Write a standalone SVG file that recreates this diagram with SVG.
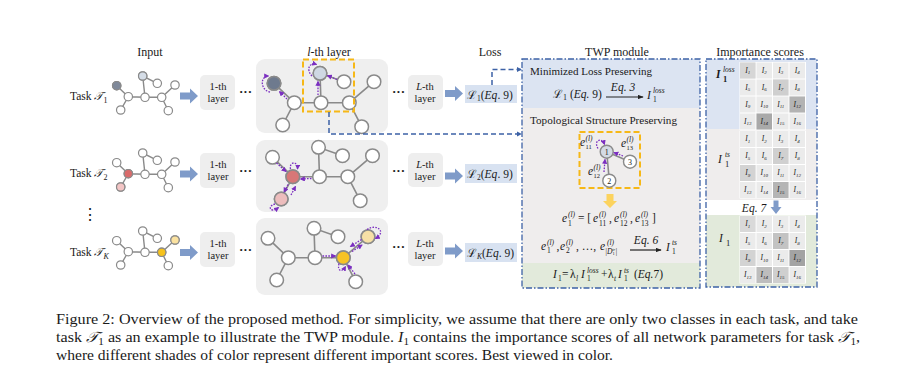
<svg xmlns="http://www.w3.org/2000/svg" width="906" height="375" viewBox="0 0 906 375">
<defs>
<style>
text{font-family:"Liberation Serif","DejaVu Serif",serif;fill:#1a1a1a}
.ttl{font-size:12px;text-anchor:middle}
.it{font-style:italic}
.lb{font-size:10.5px;text-anchor:middle}
.edge{stroke:#8a8a8a;stroke-width:1.6;fill:none}
.n{fill:#fff;stroke:#8a8a8a;stroke-width:1.2}
.N{fill:#fff;stroke:#8a8a8a;stroke-width:1.5}
.pu{stroke:#7b2fc0;stroke-width:1.3;stroke-dasharray:1.6 1.3;fill:none;marker-end:url(#pm)}
.lay{fill:#eeeeee}
.big{fill:#efefef}
.loss{fill:#d8e2f1}
.ba{fill:#7f9bc9}
.dash{stroke:#3d62a6;stroke-width:1.5;stroke-dasharray:5 3;fill:none;marker-end:url(#bm)}
.dd{stroke:#3d62a6;stroke-width:1.3;stroke-dasharray:6 2 1.5 2;fill:none}
.ob{stroke:#f6b817;stroke-width:2;stroke-dasharray:6 3;fill:none}
.c{font-size:7.5px;font-style:italic;text-anchor:middle}
.m{font-size:11.5px;font-style:italic}
.s{font-size:7.5px;font-style:italic}
.cap{font-size:14.5px}
.dots{font-size:13px;font-weight:bold}
</style>
<marker id="pm" viewBox="0 0 6 6" refX="5" refY="3" markerWidth="4" markerHeight="4" orient="auto"><path d="M0,0 L6,3 L0,6 Z" fill="#7b2fc0"/></marker>
<marker id="bm" viewBox="0 0 6 6" refX="5" refY="3" markerWidth="3.5" markerHeight="3.5" orient="auto"><path d="M0,0 L6,3 L0,6 Z" fill="#3d62a6"/></marker>
<marker id="km" viewBox="0 0 8 6" refX="7" refY="3" markerWidth="6" markerHeight="4.5" markerUnits="userSpaceOnUse" orient="auto"><path d="M0,0 L8,3 L0,6 Z" fill="#222"/></marker>
<path id="barr" d="M0,-3.5 H10 V-7.5 L18,0 L10,7.5 V3.5 H0 Z"/>
<g id="ig">
<path class="edge" style="stroke-width:1.4" d="M116.7,85.7 L128.3,96.7 L145,97.3 L161.7,97.3 L175,85 M145,97.3 L142.7,76 L157.3,83.3 M161.7,97.3 L168.3,110.7 M128.3,96.7 L120.7,110"/>
<circle class="n" cx="116.7" cy="85.7" r="4.2"/><circle class="n" cx="142.7" cy="76" r="4.2"/><circle class="n" cx="157.3" cy="83.3" r="4.2"/><circle class="n" cx="175" cy="85" r="4.2"/><circle class="n" cx="128.3" cy="96.7" r="4.2"/><circle class="n" cx="145" cy="97.3" r="4.2"/><circle class="n" cx="161.7" cy="97.3" r="4.2"/><circle class="n" cx="120.7" cy="110" r="4.2"/><circle class="n" cx="168.3" cy="110.7" r="4.2"/>
</g>
<g id="lg">
<path class="edge" d="M274,83.3 L294.3,102.7 L321,102.7 L349.3,102.7 L374,81.7 M321,102.7 L320,73.3 L344,81.7 M349.3,102.7 L361.7,126.7 M294.3,102.7 L282.7,125"/>
<circle class="N" cx="274" cy="83.3" r="6.8"/><circle class="N" cx="320" cy="73.3" r="6.8"/><circle class="N" cx="344" cy="81.7" r="6.8"/><circle class="N" cx="374" cy="81.7" r="6.8"/><circle class="N" cx="294.3" cy="102.7" r="6.8"/><circle class="N" cx="321" cy="102.7" r="6.8"/><circle class="N" cx="349.3" cy="102.7" r="6.8"/><circle class="N" cx="282.7" cy="125" r="6.8"/><circle class="N" cx="361.7" cy="126.7" r="6.8"/>
</g>
</defs>
<rect width="906" height="375" fill="#fff"/>

<!-- titles -->
<text class="ttl" x="150" y="56">Input</text>
<text class="ttl" x="329" y="56"><tspan class="it">l</tspan>-th layer</text>
<text class="ttl" x="490" y="56">Loss</text>
<text class="ttl" x="617" y="56">TWP module</text>
<text class="ttl" x="760" y="56">Importance scores</text>

<!-- inputs -->
<g id="input-1">
<text x="70" y="100" font-size="11.5">Task <tspan class="it">𝒯</tspan><tspan font-size="8" dy="2.5">1</tspan></text>
<use href="#ig"/>
<circle cx="116.7" cy="85.7" r="4.2" fill="#7f899a" stroke="#8a8a8a" stroke-width="1.2"/>
<circle cx="142.7" cy="76" r="4.2" fill="#d5dde7" stroke="#8a8a8a" stroke-width="1.2"/>
</g>
<g id="input-2">
<text x="70" y="177" font-size="11.5">Task <tspan class="it">𝒯</tspan><tspan font-size="8" dy="2.5">2</tspan></text>
<use href="#ig" transform="translate(0,77)"/>
<circle cx="128.3" cy="173.7" r="4.2" fill="#d96b6b" stroke="#8a8a8a" stroke-width="1.2"/>
<circle cx="120.7" cy="187" r="4.2" fill="#f3c5c5" stroke="#8a8a8a" stroke-width="1.2"/>
</g>
<text x="90" y="220" font-size="16" text-anchor="middle">⋮</text>
<g id="input-K">
<text x="70" y="256" font-size="11.5">Task <tspan class="it">𝒯</tspan><tspan font-size="8" dy="2.5" class="it">K</tspan></text>
<use href="#ig" transform="translate(0,155)"/>
<circle cx="161.7" cy="252.3" r="4.2" fill="#f6c21c" stroke="#8a8a8a" stroke-width="1.2"/>
<circle cx="175" cy="240" r="4.2" fill="#fbe2a0" stroke="#8a8a8a" stroke-width="1.2"/>
</g>

<!-- 1-th layer boxes -->
<g id="layer1-1"><rect class="lay" x="200" y="75" width="35" height="35" rx="5"/><text class="lb" x="218" y="90">1-th</text><text class="lb" x="218" y="102">layer</text></g>
<g id="layer1-2"><rect class="lay" x="200" y="153" width="35" height="35" rx="5"/><text class="lb" x="218" y="168">1-th</text><text class="lb" x="218" y="180">layer</text></g>
<g id="layer1-K"><rect class="lay" x="200" y="232" width="35" height="35" rx="5"/><text class="lb" x="218" y="247">1-th</text><text class="lb" x="218" y="259">layer</text></g>

<!-- l-th layer boxes -->
<g id="layerl-1">
<rect class="big" x="256" y="59" width="132" height="74" rx="9"/>
<use href="#lg"/>
<circle cx="274" cy="83.3" r="6.8" fill="#6e7a8e" stroke="#8a8a8a" stroke-width="1.5"/>
<circle cx="320" cy="73.3" r="6.8" fill="#cfd8e3" stroke="#8a8a8a" stroke-width="1.5"/>
<rect class="ob" x="303" y="59.5" width="51" height="52"/>
</g>
<g id="layerl-2">
<rect class="big" x="256" y="140" width="132" height="72" rx="9"/>
<use href="#lg" transform="translate(-1.5,74)"/>
<circle cx="292.8" cy="176.7" r="6.8" fill="#d87777" stroke="#8a8a8a" stroke-width="1.5"/>
<circle cx="281.2" cy="199" r="6.8" fill="#edbdbd" stroke="#8a8a8a" stroke-width="1.5"/>
</g>
<g id="layerl-K">
<rect class="big" x="256" y="218" width="132" height="77" rx="9"/>
<use href="#lg" transform="translate(-6,155)"/>
<circle cx="343.3" cy="257.7" r="6.8" fill="#f7c325" stroke="#8a8a8a" stroke-width="1.5"/>
<circle cx="368" cy="236.7" r="6.8" fill="#f6e0a6" stroke="#8a8a8a" stroke-width="1.5"/>
</g>

<!-- L-th layer boxes -->
<g id="layerL-1"><rect class="lay" x="408" y="75" width="35" height="35" rx="5"/><text class="lb" x="425" y="90"><tspan class="it">L</tspan>-th</text><text class="lb" x="425" y="102">layer</text></g>
<g id="layerL-2"><rect class="lay" x="408" y="153" width="35" height="34" rx="5"/><text class="lb" x="425" y="168"><tspan class="it">L</tspan>-th</text><text class="lb" x="425" y="180">layer</text></g>
<g id="layerL-K"><rect class="lay" x="408" y="232" width="35" height="34" rx="5"/><text class="lb" x="425" y="247"><tspan class="it">L</tspan>-th</text><text class="lb" x="425" y="259">layer</text></g>

<!-- losses -->
<g id="loss-1"><rect class="loss" x="465" y="85" width="52" height="18"/><text x="467" y="98.5" font-size="11.5">ℒ<tspan font-size="7.5" dy="2">1</tspan><tspan dy="-2">(</tspan><tspan class="it">Eq</tspan>. 9)</text></g>
<g id="loss-2"><rect class="loss" x="465" y="164" width="52" height="19"/><text x="467" y="177.5" font-size="11.5">ℒ<tspan font-size="7.5" dy="2">2</tspan><tspan dy="-2">(</tspan><tspan class="it">Eq</tspan>. 9)</text></g>
<g id="loss-K"><rect class="loss" x="465" y="243" width="52" height="19"/><text x="467" y="256.5" font-size="11.5">ℒ<tspan font-size="7.5" dy="2" class="it">K</tspan><tspan dy="-2">(</tspan><tspan class="it">Eq</tspan>. 9)</text></g>

<!-- TWP module -->
<g id="twp">
<rect x="522" y="59" width="178" height="49" fill="#dce4f2"/>
<rect x="522" y="108" width="178" height="155" fill="#efeded"/>
<rect x="522" y="263" width="178" height="25" fill="#e2eadb"/>
<rect class="dd" x="522" y="59" width="178" height="229"/>
<text x="530" y="75" font-size="11" textLength="122" lengthAdjust="spacingAndGlyphs">Minimized Loss Preserving</text>
<text x="553" y="98" font-size="11.5">ℒ<tspan font-size="8" dy="2">1</tspan><tspan dy="-2"> (</tspan><tspan class="it">Eq.</tspan> 9)</text>
<line x1="606" y1="97" x2="643" y2="97" stroke="#222" stroke-width="1.2" marker-end="url(#km)"/>
<text x="623" y="91" class="m" font-size="10.5" text-anchor="middle">Eq. 3</text>
<text x="647" y="99" class="m">I</text><text x="653" y="93" class="s">loss</text><text x="653" y="102" font-size="7.5">1</text>
<text x="530" y="124" font-size="11" textLength="147" lengthAdjust="spacingAndGlyphs">Topological Structure Preserving</text>
<rect class="ob" x="579.5" y="132" width="60.5" height="56"/>
<path class="edge" d="M606.7,151.7 L630,161.7 M606.7,151.7 L609.3,180.7"/>
<g id="twp-n1"><circle cx="606.7" cy="151.7" r="6.5" fill="#d4dbe4" stroke="#8a8a8a" stroke-width="1.4"/><text x="606.7" y="154.7" font-size="8" text-anchor="middle" font-family="Liberation Sans,sans-serif">1</text></g>
<g id="twp-n3"><circle cx="630" cy="161.7" r="6.5" fill="#fff" stroke="#8a8a8a" stroke-width="1.4"/><text x="630" y="164.7" font-size="8" text-anchor="middle" font-family="Liberation Sans,sans-serif">3</text></g>
<g id="twp-n2"><circle cx="609.3" cy="180.7" r="6.5" fill="#fff" stroke="#8a8a8a" stroke-width="1.4"/><text x="609.3" y="183.7" font-size="8" text-anchor="middle" font-family="Liberation Sans,sans-serif">2</text></g>
<path class="pu" d="M598,148.5 C593,140 602,137 604.5,144.5"/>
<path class="pu" d="M623,156 L614,152.5"/>
<path class="pu" d="M604,172 L605,159.5"/>
<text x="580" y="146" class="m" font-size="10">e</text><text x="585.5" y="141" class="s" font-size="6.5">(l)</text><text x="585.5" y="148.5" font-size="6.5">11</text>
<text x="621" y="147" class="m" font-size="10">e</text><text x="626.5" y="142" class="s" font-size="6.5">(l)</text><text x="626.5" y="149.5" font-size="6.5">13</text>
<text x="588" y="175" class="m" font-size="10">e</text><text x="593.5" y="170" class="s" font-size="6.5">(l)</text><text x="593.5" y="177.5" font-size="6.5">12</text>
<path d="M606.5,194 H613.5 V201 H617 L610,208 L603,201 H606.5 Z" fill="#fcd35e"/>
<!-- e1 = [...] -->
<text x="562" y="222" class="m">e</text><text x="568" y="217" class="s">(l)</text><text x="568" y="225.5" font-size="7.5">1</text>
<text x="578" y="222" font-size="11.5">= [</text>
<text x="593" y="222" class="m">e</text><text x="599" y="217" class="s">(l)</text><text x="599" y="225.5" font-size="7.5">11</text>
<text x="609" y="222" font-size="11.5">,</text>
<text x="614" y="222" class="m">e</text><text x="620" y="217" class="s">(l)</text><text x="620" y="225.5" font-size="7.5">12</text>
<text x="630" y="222" font-size="11.5">,</text>
<text x="635" y="222" class="m">e</text><text x="641" y="217" class="s">(l)</text><text x="641" y="225.5" font-size="7.5">13</text>
<text x="652" y="222" font-size="11.5">]</text>
<!-- e1..e|D| -->
<text x="541" y="249.5" class="m">e</text><text x="547" y="244.5" class="s">(l)</text><text x="547" y="253" font-size="7.5">1</text>
<text x="556.5" y="249.5" font-size="11.5">,</text>
<text x="560" y="249.5" class="m">e</text><text x="566" y="244.5" class="s">(l)</text><text x="566" y="253" font-size="7.5">2</text>
<text x="576" y="249.5" font-size="11.5">, …,</text>
<text x="600" y="249.5" class="m">e</text><text x="607" y="244.5" class="s">(l)</text><text x="605" y="254" class="s" font-size="6.5">|D<tspan font-size="4.5" dy="1" font-style="normal">1</tspan><tspan font-size="4.5" dx="-2.5" dy="-4">tr</tspan><tspan dy="3">|</tspan></text>
<line x1="630" y1="250" x2="661" y2="250" stroke="#222" stroke-width="1.2" marker-end="url(#km)"/>
<text x="646" y="244" class="m" font-size="10.5" text-anchor="middle">Eq. 6</text>
<text x="666" y="251" class="m">I</text><text x="672" y="245" class="s">ts</text><text x="672" y="254" font-size="7.5">1</text>
<!-- I1 = ... -->
<text x="553" y="278" class="m">I</text><text x="558" y="281" font-size="7.5">1</text>
<text x="562" y="278" font-size="11.5">=</text>
<text x="570" y="278" font-size="11.5">λ</text><text x="576" y="281" class="s">l</text>
<text x="581" y="278" class="m">I</text><text x="587" y="272.5" class="s">loss</text><text x="587" y="281" font-size="7.5">1</text>
<text x="601" y="278" font-size="11.5">+</text>
<text x="608" y="278" font-size="11.5">λ</text><text x="614" y="281" class="s">t</text>
<text x="618" y="278" class="m">I</text><text x="624" y="272.5" class="s">ts</text><text x="624" y="281" font-size="7.5">1</text>
<text x="634" y="278" font-size="11.5">(<tspan class="it">Eq.</tspan>7)</text>
</g>

<!-- Importance scores -->
<g id="scores">
<rect x="706" y="59" width="111" height="70" fill="#dce4f2"/>
<rect x="706" y="129" width="111" height="71" fill="#efeded"/>
<rect x="706" y="200" width="111" height="15" fill="#fff"/>
<rect x="706" y="215" width="111" height="72" fill="#e2eadb"/>
<rect x="739.5" y="62" width="66.5" height="68" fill="#fff"/>
<rect x="739.5" y="130.5" width="66.5" height="68" fill="#fff"/>
<rect x="739.5" y="215.5" width="66.5" height="68" fill="#fff"/>
<g fill="#ebebeb">
<rect x="740" y="62.5" width="15.5" height="16"/><rect x="756.5" y="62.5" width="15.5" height="16"/><rect x="773" y="62.5" width="15.5" height="16"/><rect x="789.5" y="62.5" width="15.5" height="16"/>
<rect x="740" y="79.5" width="15.5" height="16"/><rect x="756.5" y="79.5" width="15.5" height="16"/><rect x="773" y="79.5" width="15.5" height="16"/><rect x="789.5" y="79.5" width="15.5" height="16"/>
<rect x="740" y="96.5" width="15.5" height="16"/><rect x="756.5" y="96.5" width="15.5" height="16"/><rect x="773" y="96.5" width="15.5" height="16"/><rect x="789.5" y="96.5" width="15.5" height="16"/>
<rect x="740" y="113.5" width="15.5" height="16"/><rect x="756.5" y="113.5" width="15.5" height="16"/><rect x="773" y="113.5" width="15.5" height="16"/><rect x="789.5" y="113.5" width="15.5" height="16"/>
<rect x="740" y="131" width="15.5" height="16"/><rect x="756.5" y="131" width="15.5" height="16"/><rect x="773" y="131" width="15.5" height="16"/><rect x="789.5" y="131" width="15.5" height="16"/>
<rect x="740" y="148" width="15.5" height="16"/><rect x="756.5" y="148" width="15.5" height="16"/><rect x="773" y="148" width="15.5" height="16"/><rect x="789.5" y="148" width="15.5" height="16"/>
<rect x="740" y="165" width="15.5" height="16"/><rect x="756.5" y="165" width="15.5" height="16"/><rect x="773" y="165" width="15.5" height="16"/><rect x="789.5" y="165" width="15.5" height="16"/>
<rect x="740" y="182" width="15.5" height="16"/><rect x="756.5" y="182" width="15.5" height="16"/><rect x="773" y="182" width="15.5" height="16"/><rect x="789.5" y="182" width="15.5" height="16"/>
<rect x="740" y="216" width="15.5" height="16"/><rect x="756.5" y="216" width="15.5" height="16"/><rect x="773" y="216" width="15.5" height="16"/><rect x="789.5" y="216" width="15.5" height="16"/>
<rect x="740" y="233" width="15.5" height="16"/><rect x="756.5" y="233" width="15.5" height="16"/><rect x="773" y="233" width="15.5" height="16"/><rect x="789.5" y="233" width="15.5" height="16"/>
<rect x="740" y="250" width="15.5" height="16"/><rect x="756.5" y="250" width="15.5" height="16"/><rect x="773" y="250" width="15.5" height="16"/><rect x="789.5" y="250" width="15.5" height="16"/>
<rect x="740" y="267" width="15.5" height="16"/><rect x="756.5" y="267" width="15.5" height="16"/><rect x="773" y="267" width="15.5" height="16"/><rect x="789.5" y="267" width="15.5" height="16"/>
</g>
<!-- shaded -->
<rect x="740" y="62.5" width="15.5" height="16" fill="#d6d6d6"/>
<rect x="773" y="79.5" width="15.5" height="16" fill="#cfcfcf"/>
<rect x="789.5" y="96.5" width="15.5" height="16" fill="#b3b3b3"/>
<rect x="756.5" y="113.5" width="15.5" height="16" fill="#a9a9a9"/>
<rect x="773" y="148" width="15.5" height="16" fill="#d0d0d0"/>
<rect x="740" y="165" width="15.5" height="16" fill="#d3d3d3"/>
<rect x="773" y="182" width="15.5" height="16" fill="#b5b5b5"/>
<rect x="740" y="216" width="15.5" height="16" fill="#d9d9d9"/>
<rect x="773" y="233" width="15.5" height="16" fill="#c3c3c3"/>
<rect x="740" y="250" width="15.5" height="16" fill="#d3d3d3"/>
<rect x="789.5" y="250" width="15.5" height="16" fill="#a3a3a3"/>
<rect x="756.5" y="267" width="15.5" height="16" fill="#bdbdbd"/>
<rect x="773" y="267" width="15.5" height="16" fill="#cfcfcf"/>
<!-- cell labels -->
<g class="c">
<text x="747.7" y="72.5">I<tspan font-size="5" dy="1.5">1</tspan></text><text x="764.2" y="72.5">I<tspan font-size="5" dy="1.5">2</tspan></text><text x="780.7" y="72.5">I<tspan font-size="5" dy="1.5">3</tspan></text><text x="797.2" y="72.5">I<tspan font-size="5" dy="1.5">4</tspan></text>
<text x="747.7" y="89.5">I<tspan font-size="5" dy="1.5">5</tspan></text><text x="764.2" y="89.5">I<tspan font-size="5" dy="1.5">6</tspan></text><text x="780.7" y="89.5">I<tspan font-size="5" dy="1.5">7</tspan></text><text x="797.2" y="89.5">I<tspan font-size="5" dy="1.5">8</tspan></text>
<text x="747.7" y="106.5">I<tspan font-size="5" dy="1.5">9</tspan></text><text x="764.2" y="106.5">I<tspan font-size="5" dy="1.5">10</tspan></text><text x="780.7" y="106.5">I<tspan font-size="5" dy="1.5">11</tspan></text><text x="797.2" y="106.5">I<tspan font-size="5" dy="1.5">12</tspan></text>
<text x="747.7" y="123.5">I<tspan font-size="5" dy="1.5">13</tspan></text><text x="764.2" y="123.5">I<tspan font-size="5" dy="1.5">14</tspan></text><text x="780.7" y="123.5">I<tspan font-size="5" dy="1.5">15</tspan></text><text x="797.2" y="123.5">I<tspan font-size="5" dy="1.5">16</tspan></text>
<text x="747.7" y="141">I<tspan font-size="5" dy="1.5">1</tspan></text><text x="764.2" y="141">I<tspan font-size="5" dy="1.5">2</tspan></text><text x="780.7" y="141">I<tspan font-size="5" dy="1.5">3</tspan></text><text x="797.2" y="141">I<tspan font-size="5" dy="1.5">4</tspan></text>
<text x="747.7" y="158">I<tspan font-size="5" dy="1.5">5</tspan></text><text x="764.2" y="158">I<tspan font-size="5" dy="1.5">6</tspan></text><text x="780.7" y="158">I<tspan font-size="5" dy="1.5">7</tspan></text><text x="797.2" y="158">I<tspan font-size="5" dy="1.5">8</tspan></text>
<text x="747.7" y="175">I<tspan font-size="5" dy="1.5">9</tspan></text><text x="764.2" y="175">I<tspan font-size="5" dy="1.5">10</tspan></text><text x="780.7" y="175">I<tspan font-size="5" dy="1.5">11</tspan></text><text x="797.2" y="175">I<tspan font-size="5" dy="1.5">12</tspan></text>
<text x="747.7" y="192">I<tspan font-size="5" dy="1.5">13</tspan></text><text x="764.2" y="192">I<tspan font-size="5" dy="1.5">14</tspan></text><text x="780.7" y="192">I<tspan font-size="5" dy="1.5">15</tspan></text><text x="797.2" y="192">I<tspan font-size="5" dy="1.5">16</tspan></text>
<text x="747.7" y="226">I<tspan font-size="5" dy="1.5">1</tspan></text><text x="764.2" y="226">I<tspan font-size="5" dy="1.5">2</tspan></text><text x="780.7" y="226">I<tspan font-size="5" dy="1.5">3</tspan></text><text x="797.2" y="226">I<tspan font-size="5" dy="1.5">4</tspan></text>
<text x="747.7" y="243">I<tspan font-size="5" dy="1.5">5</tspan></text><text x="764.2" y="243">I<tspan font-size="5" dy="1.5">6</tspan></text><text x="780.7" y="243">I<tspan font-size="5" dy="1.5">7</tspan></text><text x="797.2" y="243">I<tspan font-size="5" dy="1.5">8</tspan></text>
<text x="747.7" y="260">I<tspan font-size="5" dy="1.5">9</tspan></text><text x="764.2" y="260">I<tspan font-size="5" dy="1.5">10</tspan></text><text x="780.7" y="260">I<tspan font-size="5" dy="1.5">11</tspan></text><text x="797.2" y="260">I<tspan font-size="5" dy="1.5">12</tspan></text>
<text x="747.7" y="277">I<tspan font-size="5" dy="1.5">13</tspan></text><text x="764.2" y="277">I<tspan font-size="5" dy="1.5">14</tspan></text><text x="780.7" y="277">I<tspan font-size="5" dy="1.5">15</tspan></text><text x="797.2" y="277">I<tspan font-size="5" dy="1.5">16</tspan></text>
</g>
<text x="716" y="78" class="m" font-size="14" font-weight="bold">I</text><text x="723" y="72" class="s" font-size="8.5">loss</text><text x="723" y="81.5" font-size="8.5" font-weight="bold">1</text>
<text x="718" y="163" class="m" font-size="14">I</text><text x="725" y="157" class="s" font-size="8.5">ts</text><text x="725" y="166.5" font-size="8.5">1</text>
<text x="719" y="242" class="m" font-size="14">I</text><text x="726" y="245.5" font-size="8.5">1</text>
<text x="754" y="211.5" class="m" font-size="11" text-anchor="middle">Eq. 7</text>
<path d="M773.5,200.5 H778.5 V207 H781.5 L776,214 L770.5,207 H773.5 Z" fill="#7f9bc9"/>
<rect class="dd" x="706" y="59" width="111" height="228"/>
</g>

<!-- connectors -->
<g id="connectors">
<use href="#barr" class="ba" x="180" y="96"/>
<use href="#barr" class="ba" x="180" y="174"/>
<use href="#barr" class="ba" x="180" y="252.5"/>
<use href="#barr" class="ba" x="445" y="93.5"/>
<use href="#barr" class="ba" x="445" y="176"/>
<use href="#barr" class="ba" x="445" y="251"/>
<text class="dots" x="239" y="96">···</text>
<text class="dots" x="239" y="175">···</text>
<text class="dots" x="239" y="254">···</text>
<text class="dots" x="392" y="96">···</text>
<text class="dots" x="392" y="175">···</text>
<text class="dots" x="392" y="251">···</text>
<path class="dash" d="M492,85 V69.5 H521"/>
<path class="dash" d="M329,112 V134 H521"/>
<!-- purple message arrows -->
<path class="pu" d="M270,92 C260,90 260,76 268.5,76"/>
<path class="pu" d="M287,99 L279.5,91.5"/>
<path class="pu" d="M312,76 C306,70 309,62 316.5,64.5"/>
<path class="pu" d="M318,95 L318,81.5"/>
<path class="pu" d="M337,79.5 L327.5,75.5"/>
<path class="pu" d="M276.5,163 L286,171.5"/>
<path class="pu" d="M290.5,169 C289,161.5 298,160.5 297.5,169"/>
<path class="pu" d="M311.5,178.5 L300.5,179"/>
<path class="pu" d="M288,184.5 L284,192"/>
<path class="pu" d="M291,195 L295.5,186.5"/>
<path class="pu" d="M275,204 C267,206 270,214 278.5,207.5"/>
<path class="pu" d="M322.5,256 L335.5,256"/>
<path class="pu" d="M361.5,239.5 L350.5,246.5"/>
<path class="pu" d="M352,251.5 L362,245"/>
<path class="pu" d="M367,229.5 C377,223 387,232 375.5,238.5"/>
<path class="pu" d="M355,274 L348,265"/>
<path class="pu" d="M339,263.5 C337,271 342,273 345.5,266.5"/>
</g>

<!-- caption -->
<text class="cap" x="56" y="324" textLength="802" lengthAdjust="spacingAndGlyphs">Figure 2: Overview of the proposed method. For simplicity, we assume that there are only two classes in each task, and take</text>
<text class="cap" x="56" y="342" textLength="804" lengthAdjust="spacingAndGlyphs">task <tspan class="it">𝒯</tspan><tspan font-size="10" dy="3">1</tspan><tspan dy="-3"> as an example to illustrate the TWP module. </tspan><tspan class="it">I</tspan><tspan font-size="10" dy="3">1</tspan><tspan dy="-3"> contains the importance scores of all network parameters for task </tspan><tspan class="it">𝒯</tspan><tspan font-size="10" dy="3">1</tspan><tspan dy="-3">,</tspan></text>
<text class="cap" x="56" y="360" textLength="557" lengthAdjust="spacingAndGlyphs">where different shades of color represent different important scores. Best viewed in color.</text>
</svg>
